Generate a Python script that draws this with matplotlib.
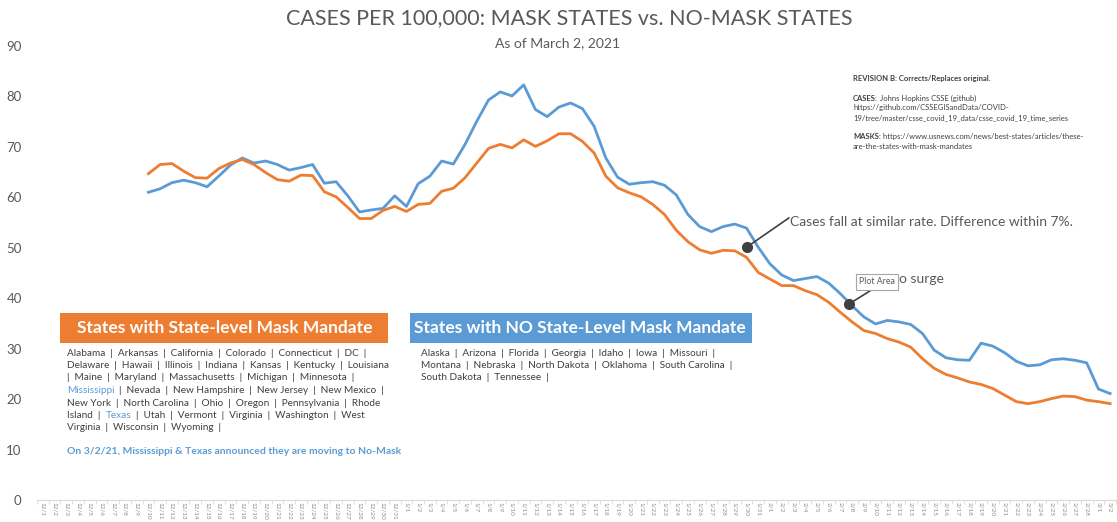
import matplotlib
matplotlib.use("Agg")
import matplotlib.pyplot as plt
from matplotlib.patches import Rectangle
import pandas as pd

# Figure size in pixels (dpi 100)
W, H = 1117, 522

# x categories: every day from 12/1/2020 to 3/2/2021
days = pd.date_range("2020-12-01", "2021-03-02")
date_labels = [f"{d.month}/{d.day}" for d in days]

# data begins on 12/10
first_day = "12/10"

# Cases per 100,000 - states with a state-level mask mandate (orange)
mask_states = [
    64.7, 66.5, 66.7, 65.2, 63.9, 63.8, 65.7, 66.8, 67.5, 66.5,
    64.9, 63.5, 63.2, 64.4, 64.3, 61.1, 60.1, 58.0, 55.8, 55.8,
    57.4, 58.2, 57.2, 58.6, 58.8, 61.2, 61.8, 63.9, 66.8, 69.7,
    70.5, 69.8, 71.4, 70.1, 71.2, 72.6, 72.6, 71.1, 68.8, 64.2,
    61.9, 60.9, 60.1, 58.6, 56.6, 53.5, 51.2, 49.6, 48.9, 49.5,
    49.4, 48.1, 45.1, 43.8, 42.5, 42.5, 41.5, 40.7, 39.2, 37.2,
    35.3, 33.6, 33.0, 32.0, 31.3, 30.3, 28.0, 26.1, 24.9, 24.2,
    23.4, 22.9, 22.1, 20.8, 19.5, 19.1, 19.5, 20.1, 20.6, 20.5,
    19.8, 19.5, 19.1,
]

# Cases per 100,000 - states with NO state-level mask mandate (blue)
no_mask_states = [
    61.0, 61.7, 62.9, 63.4, 62.9, 62.1, 64.2, 66.4, 67.8, 66.8,
    67.2, 66.5, 65.4, 65.9, 66.5, 62.8, 63.1, 60.3, 57.1, 57.5,
    57.8, 60.3, 58.2, 62.7, 64.2, 67.2, 66.6, 70.5, 75.1, 79.3,
    80.9, 80.1, 82.3, 77.4, 76.0, 77.9, 78.7, 77.6, 74.1, 67.8,
    64.0, 62.6, 62.9, 63.1, 62.4, 60.5, 56.6, 54.2, 53.2, 54.2,
    54.7, 53.9, 50.1, 46.8, 44.6, 43.5, 43.9, 44.3, 43.0, 40.9,
    38.5, 36.3, 34.9, 35.6, 35.3, 34.8, 33.0, 29.7, 28.2, 27.8,
    27.7, 31.1, 30.5, 29.2, 27.5, 26.6, 26.8, 27.8, 28.0, 27.7,
    27.2, 22.0, 21.1,
]

y_ticks = list(range(0, 100, 10))

ORANGE = "#ED7D31"
BLUE = "#5B9BD5"
TXT = "#595959"
DARK = "#404040"

plt.rcParams["font.family"] = ["Lato", "DejaVu Sans"]


def px(x, y):
    # pixel position (from top-left) -> figure fraction
    return x / W, 1 - y / H


fig = plt.figure(figsize=(W / 100, H / 100), dpi=100)
ax = fig.add_axes([37 / W, (522 - 500) / H, (1116 - 37) / W, (500 - 46) / H])

start = date_labels.index(first_day)
xs = list(range(start, start + len(mask_states)))
ax.plot(xs, no_mask_states, color=BLUE, lw=2.0, solid_joinstyle="round")
ax.plot(xs, mask_states, color=ORANGE, lw=2.0, solid_joinstyle="round")

ax.set_xlim(-0.5, len(date_labels) - 0.5)
ax.set_ylim(0, 90)
ax.set_yticks(y_ticks)
ax.tick_params(axis="y", length=0, pad=11, labelsize=9.5, labelcolor=TXT)
ax.set_xticks(range(len(date_labels)))
ax.set_xticklabels(date_labels, rotation=-90, fontsize=4.6, color="#8c8c8c")
ax.set_xticks([i - 0.5 for i in range(len(date_labels) + 1)], minor=True)
ax.tick_params(axis="x", which="major", length=0, pad=1.5)
ax.tick_params(axis="x", which="minor", length=3, color="#d9d9d9", direction="out")
for s in ["top", "right", "left"]:
    ax.spines[s].set_visible(False)
ax.spines["bottom"].set_color("#d9d9d9")

# titles
fig.text(*px(569, 18), "CASES PER 100,000: MASK STATES vs. NO-MASK STATES",
         ha="center", va="center", fontsize=15.5, color=TXT)
fig.text(*px(558, 43), "As of March 2, 2021", ha="center", va="center",
         fontsize=10, color=TXT)

# source notes, top right
notes = [
    [("REVISION B: Corrects/Replaces original.", "bold")],
    [],
    [("CASES:", "bold"), (" Johns Hopkins CSSE (github)", "normal")],
    [("https://github.com/CSSEGISandData/COVID-", "normal")],
    [("19/tree/master/csse_covid_19_data/csse_covid_19_time_series", "normal")],
    [],
    [("MASKS:", "bold"), (" https://www.usnews.com/news/best-states/articles/these-", "normal")],
    [("are-the-states-with-mask-mandates", "normal")],
]

fig.canvas.draw()
renderer = fig.canvas.get_renderer()


def draw_segments(x, y, segments, size, default_color=DARK, weight="normal"):
    # draw a line of text made of pieces with different colors / weights
    for seg in segments:
        text = seg[0]
        color = seg[1] if len(seg) > 1 else default_color
        wt = seg[2] if len(seg) > 2 else weight
        t = fig.text(*px(x, y), text, ha="left", va="center", fontsize=size,
                     color=color, fontweight=wt)
        bb = t.get_window_extent(renderer)
        x += bb.width


for k, line in enumerate(notes):
    y = 79 + k * 9.6
    draw_segments(853, y, [(t, DARK, w) for t, w in line], 5.5)

# legend boxes
fig.add_artist(Rectangle(px(60, 343), 328 / W, 30 / H, transform=fig.transFigure,
                         facecolor=ORANGE, edgecolor="none"))
fig.text(*px(225, 328), "States with State-level Mask Mandate", ha="center",
         va="center", fontsize=12.5, fontweight="bold", color="white")
fig.add_artist(Rectangle(px(410, 343), 342 / W, 30 / H, transform=fig.transFigure,
                         facecolor=BLUE, edgecolor="none"))
fig.text(*px(580, 328), "States with NO State-Level Mask Mandate", ha="center",
         va="center", fontsize=12.5, fontweight="bold", color="white")

sep = "  |  "
mask_lines = [
    [("Alabama" + sep + "Arkansas" + sep + "California" + sep + "Colorado" + sep + "Connecticut" + sep + "DC  |",)],
    [("Delaware" + sep + "Hawaii" + sep + "Illinois" + sep + "Indiana" + sep + "Kansas" + sep + "Kentucky" + sep + "Louisiana",)],
    [("|  Maine" + sep + "Maryland" + sep + "Massachusetts" + sep + "Michigan" + sep + "Minnesota  |",)],
    [("Mississippi", BLUE), (sep + "Nevada" + sep + "New Hampshire" + sep + "New Jersey" + sep + "New Mexico  |",)],
    [("New York" + sep + "North Carolina" + sep + "Ohio" + sep + "Oregon" + sep + "Pennsylvania" + sep + "Rhode",)],
    [("Island" + sep, DARK), ("Texas", BLUE), (sep + "Utah" + sep + "Vermont" + sep + "Virginia" + sep + "Washington" + sep + "West",)],
    [("Virginia" + sep + "Wisconsin" + sep + "Wyoming  |",)],
]
for k, line in enumerate(mask_lines):
    draw_segments(67, 353 + k * 12.5, line, 7.2)

no_mask_lines = [
    [("Alaska" + sep + "Arizona" + sep + "Florida" + sep + "Georgia" + sep + "Idaho" + sep + "Iowa" + sep + "Missouri  |",)],
    [("Montana" + sep + "Nebraska" + sep + "North Dakota" + sep + "Oklahoma" + sep + "South Carolina  |",)],
    [("South Dakota" + sep + "Tennessee  |",)],
]
for k, line in enumerate(no_mask_lines):
    draw_segments(421, 353 + k * 12.5, line, 7.2)

fig.text(*px(67, 452), "On 3/2/21, Mississippi & Texas announced they are moving to No-Mask",
         ha="left", va="center", fontsize=7.5, fontweight="bold", color=BLUE)

# callouts: dot + leader line + text
ax.plot([60.0, 63.6], [50.1, 55.9], color=DARK, lw=1.2)
ax.plot([60.0], [50.1], "o", color=DARK, ms=7, zorder=5)
ax.text(63.7, 55.1, "Cases fall at similar rate. Difference within 7%.",
        ha="left", va="center", fontsize=10, color=TXT)

ax.plot([68.7, 70.9], [38.8, 42.0], color=DARK, lw=1.2)
ax.plot([68.7], [38.8], "o", color=DARK, ms=7, zorder=5)
ax.text(73.0, 43.8, "o surge", ha="left", va="center", fontsize=10, color=TXT)
fig.text(*px(877, 282), "Plot Area", ha="center", va="center", fontsize=6.3,
         color=TXT, bbox=dict(boxstyle="square,pad=0.35", facecolor="white",
                              edgecolor="#a6a6a6", lw=0.8))

fig.savefig("out.png", dpi=100)
